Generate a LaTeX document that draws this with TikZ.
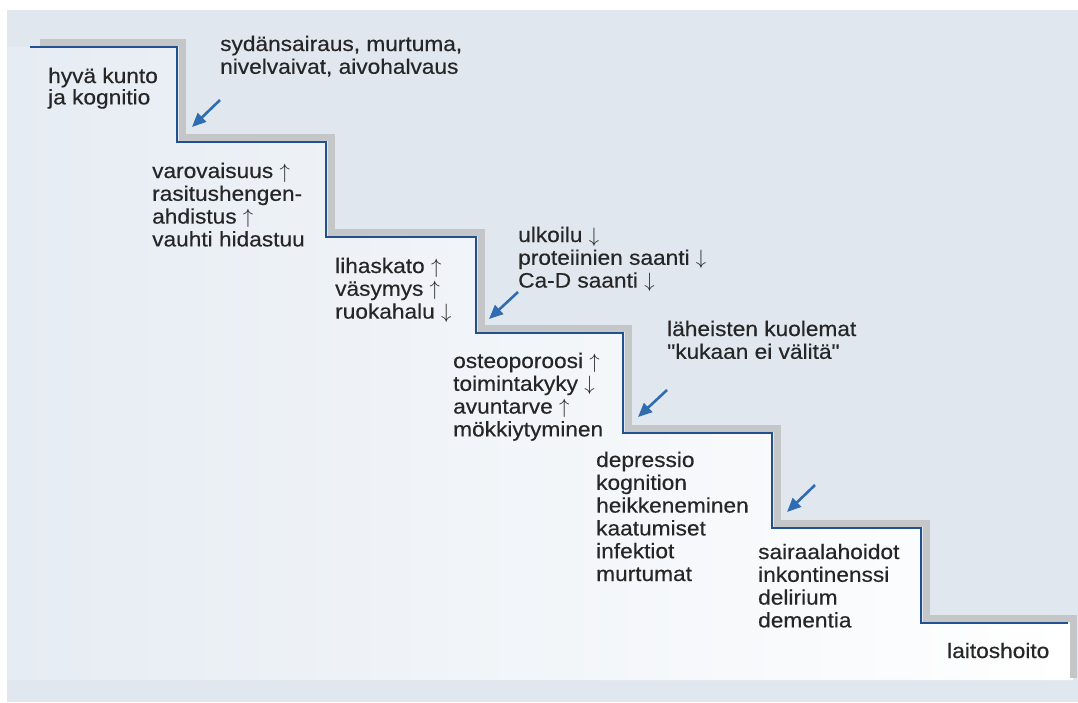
\documentclass[tikz,border=0pt]{standalone}
\usepackage{fontspec}
\setmainfont{Liberation Sans}[FakeStretch=1.08,FakeBold=0.4,Ligatures=TeXOff]
\usetikzlibrary{arrows.meta}
\definecolor{bgblue}{HTML}{E1E7EE}
\definecolor{underL}{HTML}{E6ECF3}
\definecolor{lineblue}{HTML}{23508F}
\definecolor{arrowblue}{HTML}{2F6CB0}
\definecolor{shadowgray}{HTML}{C4C6C8}
\definecolor{txt}{HTML}{262626}
\newcommand{\up}{\ensuremath{\uparrow}}
\newcommand{\dn}{\ensuremath{\downarrow}}
\newcommand{\lines}[1]{\begin{tabular}[t]{@{}l@{}}#1\end{tabular}}
\begin{document}
\begin{tikzpicture}[x=1pt,y=-1pt,
  lbl/.style={anchor=base west, inner sep=0pt, text=txt,
    font=\fontsize{21}{22.8}\selectfont},
  stair/.style={draw=lineblue, line width=2.5pt, line join=miter},
  shadowline/.style={draw=shadowgray, line width=7pt, line join=miter},
  pointer/.style={draw=arrowblue, line width=2.6pt,
    -{Triangle[length=14pt,width=12pt]}}]
\useasboundingbox (0,0) rectangle (1078,702);
% background
\fill[bgblue] (0,0) rectangle (1078,702);
\fill[white] (0,0) rectangle (1078,10);
\fill[white] (0,0) rectangle (7,702);
% region under the stairs
\path[left color=underL, middle color=white, right color=white]
  (7,47) -- (177,47) -- (177,142) -- (326,142) -- (326,237) -- (476,237)
  -- (476,333) -- (623,333) -- (623,433) -- (772,433) -- (772,528)
  -- (921,528) -- (921,623) -- (1073,623) -- (1073,680) -- (7,680) -- cycle;
% shadow of the stairs
\draw[shadowline] (40,42) -- (182,42) -- (182,137) -- (331,137) -- (331,232)
  -- (481,232) -- (481,328) -- (628,328) -- (628,428) -- (777,428)
  -- (777,523) -- (926,523) -- (926,618) -- (1073.5,618) -- (1073.5,678);
% stairs
\draw[stair] (30,47) -- (177,47) -- (177,142) -- (326,142) -- (326,237)
  -- (476,237) -- (476,333) -- (623,333) -- (623,433) -- (772,433)
  -- (772,528) -- (921,528) -- (921,623) -- (1068,623);
% arrows
\coordinate (a1t) at (220,100); \coordinate (a1h) at (192,127);
\coordinate (a2t) at (518,292); \coordinate (a2h) at (489,319);
\coordinate (a3t) at (667,390); \coordinate (a3h) at (638,417);
\coordinate (a4t) at (815,485); \coordinate (a4h) at (787,512);
\draw[pointer] (a1t) -- (a1h);
\draw[pointer] (a2t) -- (a2h);
\draw[pointer] (a3t) -- (a3h);
\draw[pointer] (a4t) -- (a4h);
% texts
\node[lbl] (sydan) at (220,51) {\lines{sydänsairaus, murtuma,\\nivelvaivat, aivohalvaus}};
\node[lbl, font=\fontsize{21}{20.5}\selectfont] (kunto) at (48,83) {\lines{hyvä kunto\\ja kognitio}};
\node[lbl] (varo) at (152,178) {\lines{varovaisuus \up\\rasitushengen-\\ahdistus \up\\vauhti hidastuu}};
\node[lbl] (liha) at (335,273) {\lines{lihaskato \up\\väsymys \up\\ruokahalu \dn}};
\node[lbl] (ulko) at (518,242) {\lines{ulkoilu \dn\\proteiinien saanti \dn\\Ca-D saanti \dn}};
\node[lbl] (osteo) at (453,368) {\lines{osteoporoosi \up\\toimintakyky \dn\\avuntarve \up\\mökkiytyminen}};
\node[lbl] (lahe) at (667,336) {\lines{läheisten kuolemat\\"kukaan ei välitä"}};
\node[lbl] (depr) at (596,467) {\lines{depressio\\kognition\\heikkeneminen\\kaatumiset\\infektiot\\murtumat}};
\node[lbl] (sair) at (758,559) {\lines{sairaalahoidot\\inkontinenssi\\delirium\\dementia}};
\node[lbl] (lait) at (947,658) {laitoshoito};
\end{tikzpicture}
\end{document}
